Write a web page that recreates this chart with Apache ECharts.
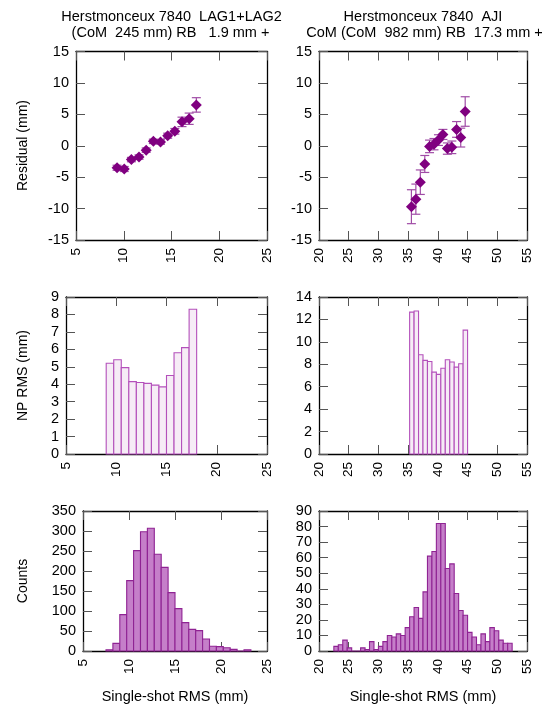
<!DOCTYPE html>
<html>
<head>
<meta charset="utf-8">
<script src="https://cdn.jsdelivr.net/npm/echarts@6/dist/echarts.min.js"></script>
<style>
html,body{margin:0;padding:0;background:#fff;}
#chart{width:554px;height:706px;}
</style>
</head>
<body>
<div id="chart"></div>
<script>
// ---------------- data ----------------
const titleLeft1 = 'Herstmonceux 7840  LAG1+LAG2';
const titleLeft2 = '(CoM  245 mm) RB   1.9 mm +';
const titleRight1 = 'Herstmonceux 7840  AJI';
const titleRight2 = 'CoM (CoM  982 mm) RB  17.3 mm +';
const yTitleTop = 'Residual (mm)';
const yTitleMid = 'NP RMS (mm)';
const yTitleBot = 'Counts';
const xTitle = 'Single-shot RMS (mm)';

const binWidth = 0.75;

// residual vs RMS (top row)
const lagResX = [9.3, 10.05, 10.8, 11.6, 12.35, 13.1, 13.85, 14.6, 15.35, 16.1, 16.85, 17.6];
const lagResY = [-3.5, -3.7, -2.2, -1.8, -0.7, 0.7, 0.6, 1.6, 2.3, 3.8, 4.3, 6.5];
const lagResErr = [0.4, 0.4, 0.35, 0.35, 0.35, 0.35, 0.35, 0.4, 0.45, 0.75, 0.9, 1.15];

const ajiResX = [35.55, 36.3, 37.05, 37.8, 38.6, 39.35, 40.1, 40.85, 41.6, 42.35, 43.15, 43.85, 44.6];
const ajiResY = [-9.7, -8.5, -5.8, -2.9, -0.1, 0.25, 0.9, 1.8, -0.45, -0.25, 2.6, 1.3, 5.45];
const ajiResErr = [2.7, 2.4, 1.95, 1.35, 1.0, 0.9, 0.85, 0.8, 0.9, 1.0, 1.25, 1.5, 2.35];

// normal point RMS (middle row)
const lagNpCenters = [9.375, 10.125, 10.875, 11.625, 12.375, 13.125, 13.875, 14.625, 15.375, 16.125, 16.875, 17.625];
const lagNpRms = [5.2, 5.4, 4.95, 4.15, 4.1, 4.05, 3.95, 3.85, 4.5, 5.8, 6.1, 8.3];

const ajiNpCenters = [35.625, 36.375, 37.125, 37.875, 38.625, 39.375, 40.125, 40.875, 41.625, 42.375, 43.125, 43.875, 44.625];
const ajiNpRms = [12.65, 12.75, 8.85, 8.35, 8.25, 7.3, 7.1, 7.65, 8.4, 8.2, 7.75, 8.05, 11.05];

// single-shot RMS histograms (bottom row)
const lagCountCenters = [7.875, 8.625, 9.375, 10.125, 10.875, 11.625, 12.375, 13.125, 13.875, 14.625, 15.375, 16.125, 16.875, 17.625, 18.375, 19.125, 19.875, 20.625, 21.375, 22.125, 22.875];
const lagCounts = [3, 19, 91, 176, 251, 298, 307, 242, 209, 146, 106, 71, 54, 51, 30, 12, 11, 8, 4, 0, 3];

const ajiCountCenters = [22.875, 23.625, 24.375, 25.125, 25.875, 26.625, 27.375, 28.125, 28.875, 29.625,
  30.375, 31.125, 31.875, 32.625, 33.375, 34.125, 34.875, 35.625, 36.375, 37.125,
  37.875, 38.625, 39.375, 40.125, 40.875, 41.625, 42.375, 43.125, 43.875, 44.625,
  45.375, 46.125, 46.875, 47.625, 48.375, 49.125, 49.875, 50.625, 51.375, 52.125];
const ajiCounts = [3, 4, 7, 2, 0, 0, 2, 1, 6, 1,
  3, 6, 10, 9, 11, 10, 15, 22, 28, 21,
  38, 61, 64, 82, 82, 53, 56, 37, 26, 23,
  12, 9, 4, 11, 6, 15, 13, 7, 5, 5];

// axis ranges
const leftX = {min: 5, max: 25, interval: 5};
const rightX = {min: 20, max: 55, interval: 5};
const resY = {min: -15, max: 15, interval: 5};
const lagNpY = {min: 0, max: 9, interval: 1};
const ajiNpY = {min: 0, max: 14, interval: 2};
const lagCntY = {min: 0, max: 350, interval: 50};
const ajiCntY = {min: 0, max: 90, interval: 10};

// ---------------- styling / layout ----------------
const FONT = '"Liberation Sans", Arial, Helvetica, sans-serif';
const grids = [
  {left: 76, top: 51.5, width: 191, height: 188.5},
  {left: 319, top: 51.5, width: 208, height: 188.5},
  {left: 66, top: 297, width: 201, height: 157},
  {left: 319, top: 297, width: 208, height: 157},
  {left: 83, top: 511, width: 184, height: 140},
  {left: 319, top: 511, width: 208, height: 140}
];
const ranges = [
  [leftX, resY], [rightX, resY],
  [leftX, lagNpY], [rightX, ajiNpY],
  [leftX, lagCntY], [rightX, ajiCntY]
];

const tickStyle = {inside: true, length: 9, lineStyle: {color: '#555', width: 1}};
const lineStyle = {show: true, onZero: false, lineStyle: {color: '#000', width: 1.3}};

const xAxes = [], yAxes = [];
ranges.forEach((r, gi) => {
  const xr = r[0], yr = r[1];
  xAxes.push({gridIndex: gi, type: 'value', position: 'bottom', min: xr.min, max: xr.max, interval: xr.interval,
    axisLine: lineStyle, axisTick: tickStyle, splitLine: {show: false},
    axisLabel: {show: true, rotate: 90, margin: 8, fontSize: 13.5, color: '#000', fontFamily: FONT,
      showMinLabel: true, showMaxLabel: true}});
  xAxes.push({gridIndex: gi, type: 'value', position: 'top', min: xr.min, max: xr.max, interval: xr.interval,
    axisLine: lineStyle, axisTick: tickStyle, splitLine: {show: false}, axisLabel: {show: false}});
  yAxes.push({gridIndex: gi, type: 'value', position: 'left', min: yr.min, max: yr.max, interval: yr.interval,
    axisLine: lineStyle, axisTick: tickStyle, splitLine: {show: false},
    axisLabel: {show: true, margin: 7, fontSize: 14.5, color: '#000', fontFamily: FONT,
      showMinLabel: true, showMaxLabel: true}});
  yAxes.push({gridIndex: gi, type: 'value', position: 'right', min: yr.min, max: yr.max, interval: yr.interval,
    axisLine: lineStyle, axisTick: tickStyle, splitLine: {show: false}, axisLabel: {show: false}});
});

function zip(a, b, c) { return a.map((v, i) => c ? [v, b[i], c[i]] : [v, b[i]]); }

function histSeries(gi, centers, values, fill, stroke) {
  return {
    type: 'custom', xAxisIndex: gi * 2, yAxisIndex: gi * 2,
    data: zip(centers, values), encode: {x: 0, y: 1}, z: 3,
    renderItem: function (params, api) {
      const c = api.value(0), v = api.value(1);
      const a = api.coord([c - binWidth / 2, v]);
      const b = api.coord([c + binWidth / 2, 0]);
      return {type: 'rect', shape: {x: a[0], y: a[1], width: b[0] - a[0], height: b[1] - a[1]},
        style: {fill: fill, stroke: stroke, lineWidth: 1.1}};
    }
  };
}

const errColor = '#a04ca6';
function errSeries(gi, xs, ys, es) {
  return {
    type: 'custom', xAxisIndex: gi * 2, yAxisIndex: gi * 2,
    data: zip(xs, ys, es), encode: {x: 0, y: 1}, z: 3,
    renderItem: function (params, api) {
      const x = api.value(0), y = api.value(1), e = api.value(2);
      const t = api.coord([x, y + e]), b = api.coord([x, y - e]);
      const cap = 4.5;
      const st = {stroke: errColor, lineWidth: 1.2};
      return {type: 'group', children: [
        {type: 'line', shape: {x1: t[0], y1: t[1], x2: b[0], y2: b[1]}, style: st},
        {type: 'line', shape: {x1: t[0] - cap, y1: t[1], x2: t[0] + cap, y2: t[1]}, style: st},
        {type: 'line', shape: {x1: b[0] - cap, y1: b[1], x2: b[0] + cap, y2: b[1]}, style: st}
      ]};
    }
  };
}
function ptSeries(gi, xs, ys) {
  return {type: 'scatter', xAxisIndex: gi * 2, yAxisIndex: gi * 2, data: zip(xs, ys),
    symbol: 'diamond', symbolSize: 11, itemStyle: {color: '#800080', opacity: 1}, z: 4};
}

const npFill = '#f6ecf6', npStroke = '#b450bb';
const cntFill = '#c57fc9', cntStroke = '#8f2393';

const series = [
  errSeries(0, lagResX, lagResY, lagResErr), ptSeries(0, lagResX, lagResY),
  errSeries(1, ajiResX, ajiResY, ajiResErr), ptSeries(1, ajiResX, ajiResY),
  histSeries(2, lagNpCenters, lagNpRms, npFill, npStroke),
  histSeries(3, ajiNpCenters, ajiNpRms, npFill, npStroke),
  histSeries(4, lagCountCenters, lagCounts, cntFill, cntStroke),
  histSeries(5, ajiCountCenters, ajiCounts, cntFill, cntStroke)
];

function txt(x, y, s, size, rot) {
  return {type: 'text', x: x, y: y, rotation: rot ? Math.PI / 2 : 0, z: 10,
    style: {text: s, fontSize: size, fontFamily: FONT, fill: '#000', align: 'center', verticalAlign: 'middle'}};
}
const graphic = [
  txt(171.5, 16.5, titleLeft1, 14.5), txt(170.5, 32.5, titleLeft2, 14.5),
  txt(423, 16.5, titleRight1, 14.5), txt(424.5, 32.5, titleRight2, 14.5),
  txt(23, 145.5, yTitleTop, 14, true),
  txt(23, 375.5, yTitleMid, 14, true),
  txt(23, 581, yTitleBot, 14, true),
  txt(175, 697, xTitle, 14.5), txt(423, 697, xTitle, 14.5)
];

const chart = echarts.init(document.getElementById('chart'), null, {renderer: 'canvas'});
chart.setOption({
  animation: false,
  backgroundColor: '#fff',
  grid: grids.map(g => Object.assign({containLabel: false}, g)),
  xAxis: xAxes,
  yAxis: yAxes,
  series: series,
  graphic: graphic
});
</script>
</body>
</html>
